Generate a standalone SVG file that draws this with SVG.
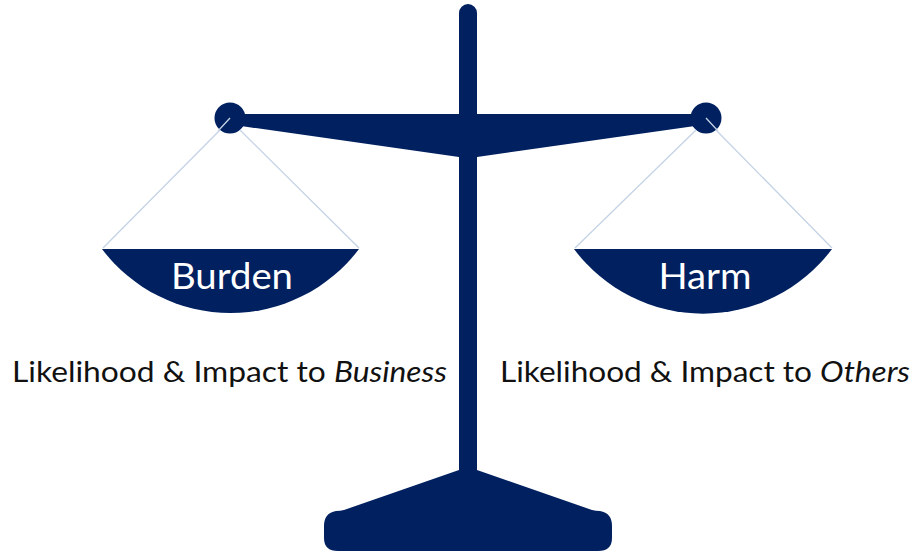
<svg xmlns="http://www.w3.org/2000/svg" width="915" height="552" viewBox="0 0 915 552">
<style>
.n{fill:#002060}
.s{stroke:#c5d3e6;stroke-width:1.3;fill:none}
.t{font-family:Lato,"Open Sans","Liberation Sans",sans-serif}
.p{font-size:37px;fill:#fff;text-anchor:middle}
.l{font-size:28.500px;fill:#111}
</style>
<rect width="915" height="552" fill="#fff"/>
<g id="scale">
<path class="n" d="M459 13a9 9 0 0 1 18 0V114H695V126L477 157V470L592 510Q596 511 600 511Q612 513 612 526V538Q612 551 598 551H338Q324 551 324 538V526Q324 513 336 511Q340 511 344 510L459 470V157L241 126V114H459Z"/>
<circle class="n" cx="230" cy="118" r="15.500"/>
<circle class="n" cx="706" cy="118" r="15.500"/>
</g>
<g id="connectors">
<path class="s" d="M230 118L218 131M240 130L359 248M220 130L103 248"/>
<path class="s" d="M706 118L718 131M696 130L575 248M716 130L832 248"/>
</g>
<g id="burden">
<path class="n" d="M102 249H359A161 161 0 0 1 102 249Z"/>
<text class="t p" x="232" y="289" textLength="122" lengthAdjust="spacingAndGlyphs">Burden</text>
</g>
<g id="harm">
<path class="n" d="M574 249H832A161 161 0 0 1 574 249Z"/>
<text class="t p" x="705" y="289" textLength="93" lengthAdjust="spacingAndGlyphs">Harm</text>
</g>
<text id="burden-label" class="t l" x="12" y="382" textLength="435" lengthAdjust="spacingAndGlyphs">Likelihood &amp; Impact to <tspan font-style="italic">Business</tspan></text>
<text id="harm-label" class="t l" x="500" y="382" textLength="410" lengthAdjust="spacingAndGlyphs">Likelihood &amp; Impact to <tspan font-style="italic">Others</tspan></text>
</svg>
